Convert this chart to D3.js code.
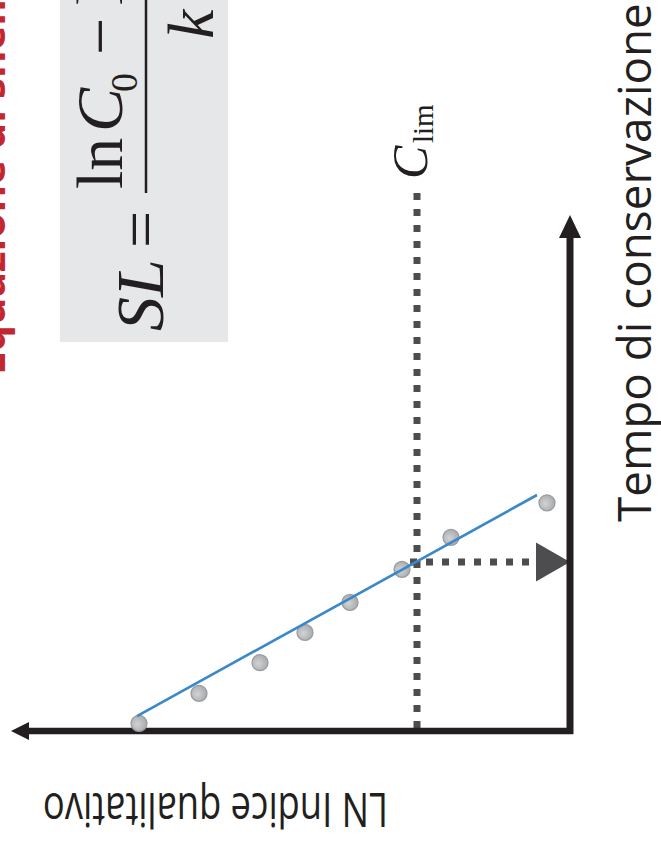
<!DOCTYPE html>
<html><head><meta charset="utf-8">
<script src="https://cdn.jsdelivr.net/npm/d3@7"></script>
<style>html,body{margin:0;padding:0;background:#fff;overflow:hidden}</style>
</head><body>
<script>
// ---- data (original, un-rotated chart: x = storage time, y = LN quality index)
const times    = [0, 1, 2.02, 3.03, 4.03, 5.13, 6.2, 7.35];
const lnValues = [4.31, 3.71, 3.10, 2.65, 2.20, 1.68, 1.19, 0.23];
const fitLine  = [[0.24, 4.33], [7.61, 0.33]];
const cLim = 1.53;          // LN of the limit value
const shelfLife = 5.38;     // time where fit reaches C_lim
const titleText = "Equazione di shelf life";
const xLabel = "Tempo di conservazione";
const yLabel = "LN Indice qualitativo";

const W = 661, H = 845;
const svg = d3.select("body").append("svg").attr("width", W).attr("height", H);

// defs
const defs = svg.append("defs");
const grad = defs.append("radialGradient").attr("id", "pt").attr("cx", "45%").attr("cy", "40%").attr("r", "60%");
grad.append("stop").attr("offset", "0%").attr("stop-color", "#d2d3d5");
grad.append("stop").attr("offset", "100%").attr("stop-color", "#a9aaac");

// the whole chart is drawn in its original orientation, then turned 90° counter-clockwise
const g = svg.append("g").attr("transform", `translate(0,${H}) rotate(-90)`);

const x = d3.scaleLinear().domain([0, 10]).range([121.7, 421.7]);
const y = d3.scaleLinear().domain([0, 5]).range([570, 70]);

const ink = "#231f20", dot = "#4d4d4f";

// title (mostly outside the frame)
g.append("text").attr("x", 470).attr("y", 5)
  .attr("font-family", "'Open Sans', sans-serif").attr("font-weight", 700)
  .attr("font-size", 42).attr("fill", "#c1272d").text(titleText);

// formula box
g.append("rect").attr("x", 503).attr("y", 60).attr("width", 400).attr("height", 168).attr("fill", "#e6e7e8");
const serif = "'Liberation Serif', 'Times New Roman', serif";
const f = g.append("g").attr("font-family", serif).attr("fill", ink);
f.append("text").attr("x", 514).attr("y", 163).attr("font-size", 68).attr("font-style", "italic").text("SL");
f.append("text").attr("x", 597).attr("y", 163).attr("font-size", 66).text("=");
f.append("line").attr("x1", 652).attr("x2", 1000).attr("y1", 146).attr("y2", 146).attr("stroke", ink).attr("stroke-width", 2.5);
f.append("text").attr("x", 656).attr("y", 122).attr("font-size", 66).text("ln");
f.append("text").attr("x", 713).attr("y", 122).attr("font-size", 66).attr("font-style", "italic").text("C");
f.append("text").attr("x", 753).attr("y", 137).attr("font-size", 38).text("0");
f.append("text").attr("x", 790).attr("y", 122).attr("font-size", 66).text("−");
f.append("text").attr("x", 840).attr("y", 122).attr("font-size", 66).text("ln");
f.append("text").attr("x", 806).attr("y", 213).attr("font-size", 66).attr("font-style", "italic").text("k");

// C_lim label
g.append("text").attr("x", 666).attr("y", 427).attr("font-family", serif).attr("font-size", 50)
  .attr("font-style", "italic").attr("fill", ink).text("C");
g.append("text").attr("x", 702).attr("y", 433).attr("font-family", serif).attr("font-size", 29)
  .attr("fill", ink).text("lim");

// C_lim dotted line (horizontal in original)
g.append("line").attr("x1", 652).attr("x2", x(-0.22)).attr("y1", y(cLim)).attr("y2", y(cLim))
  .attr("stroke", dot).attr("stroke-width", 7).attr("stroke-dasharray", "7 9");

// shelf-life dotted drop line + arrowhead
const slx = x(shelfLife);
g.append("line").attr("x1", slx).attr("x2", slx).attr("y1", 410).attr("y2", 530)
  .attr("stroke", dot).attr("stroke-width", 7).attr("stroke-dasharray", "7 9");
g.append("path").attr("d", `M${slx - 19.5},${y(0) - 34} L${slx + 19.5},${y(0) - 34} L${slx},${y(0)} Z`).attr("fill", dot);

// axes with arrows
const x0 = x(-0.26);
g.append("line").attr("x1", x0).attr("x2", x0).attr("y1", y(0) + 3).attr("y2", 28)
  .attr("stroke", ink).attr("stroke-width", 6.5);
g.append("path").attr("d", `M${x0 - 9},29 L${x0 + 9},29 L${x0},11 Z`).attr("fill", ink);
g.append("line").attr("x1", x0 - 3).attr("x2", 608).attr("y1", y(0)).attr("y2", y(0))
  .attr("stroke", ink).attr("stroke-width", 7);
g.append("path").attr("d", `M607,${y(0) - 11} L607,${y(0) + 11} L630,${y(0)} Z`).attr("fill", ink);

// points
g.selectAll("circle.pt").data(times.map((t, i) => [t, lnValues[i]])).join("circle")
  .attr("class", "pt").attr("cx", d => x(d[0])).attr("cy", d => y(d[1])).attr("r", 8)
  .attr("fill", "url(#pt)").attr("stroke", "#9c9d9f").attr("stroke-width", 1.3);

// regression line
g.append("path").attr("d", d3.line().x(d => x(d[0])).y(d => y(d[1]))(fitLine))
  .attr("stroke", "#3b88c9").attr("stroke-width", 2.6).attr("fill", "none");

// axis labels
const sans = "'Open Sans', sans-serif";
function fit(sel, target) {
  const w = sel.node().getComputedTextLength();
  sel.attr("font-size", parseFloat(sel.attr("font-size")) * target / w);
}
const xl = g.append("text").attr("x", 323).attr("y", 651).attr("font-family", sans)
  .attr("font-size", 42).attr("fill", ink).text(xLabel);
fit(xl, 519);
g.append("text").attr("transform", "translate(52,388) rotate(-90)").attr("font-family", sans)
  .attr("font-size", 48).attr("fill", ink)
  .attr("textLength", 345).attr("lengthAdjust", "spacingAndGlyphs").text(yLabel);
</script>
</body></html>
